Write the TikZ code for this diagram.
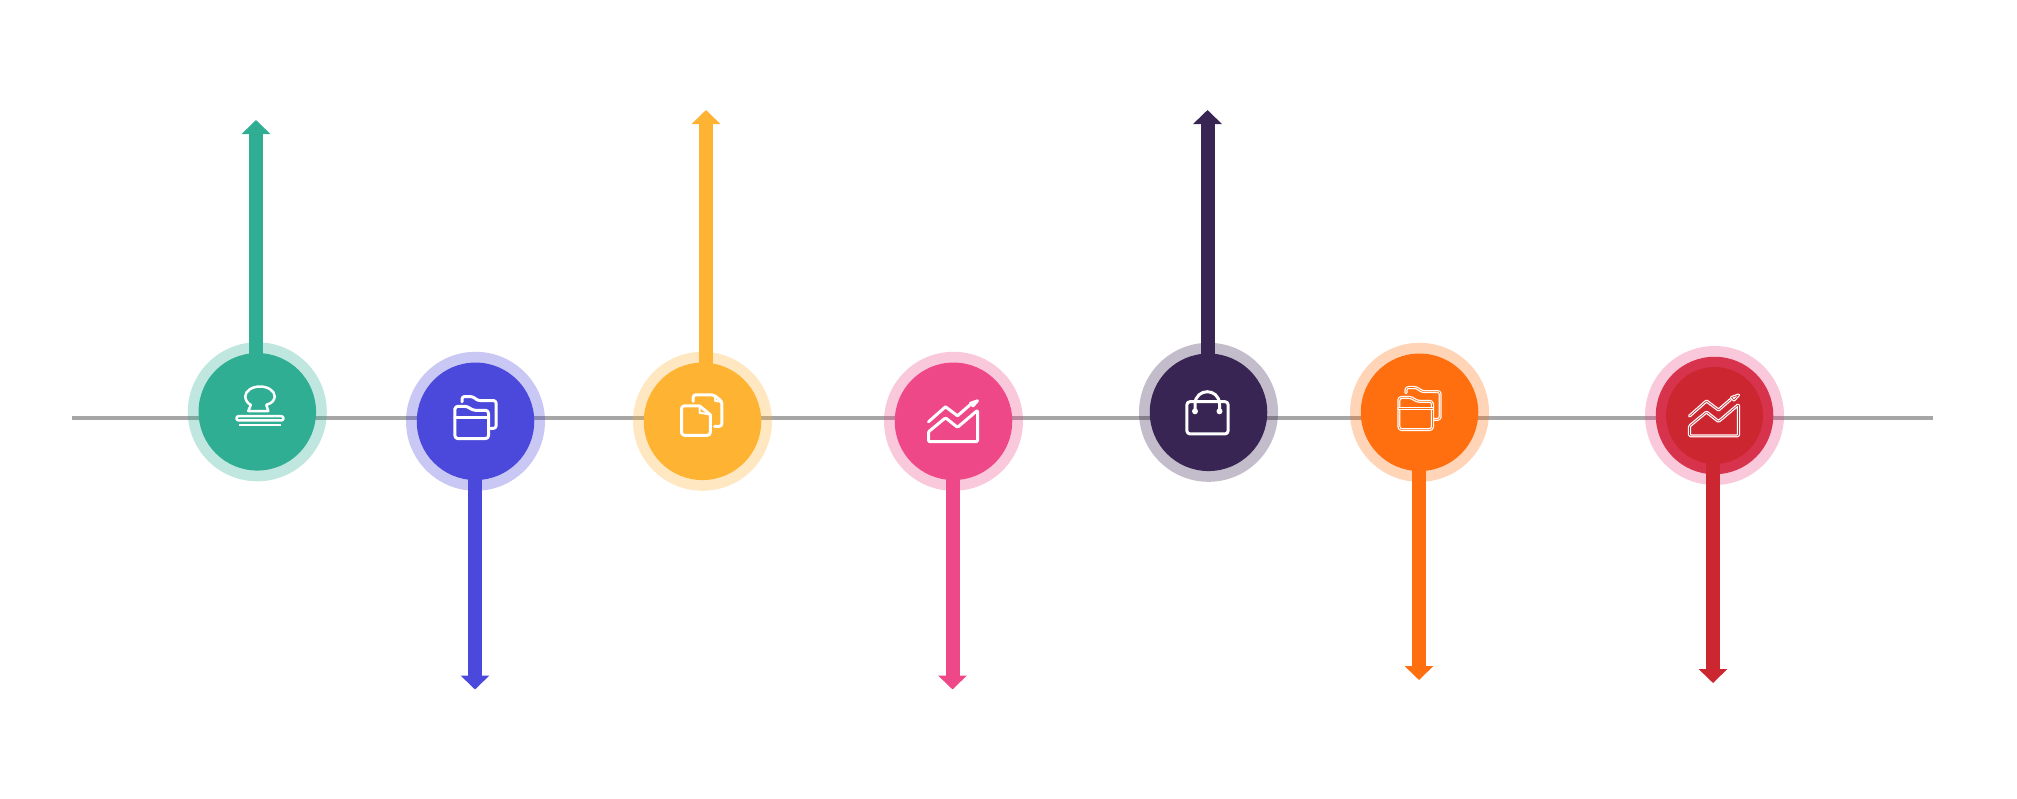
\documentclass[tikz,border=0pt]{standalone}
\usetikzlibrary{arrows.meta,calc}
\definecolor{cgreen}{HTML}{2FAE94}
\definecolor{cblue}{HTML}{4B49DB}
\definecolor{cyellow}{HTML}{FFB332}
\definecolor{cpink}{HTML}{EE4889}
\definecolor{cpurple}{HTML}{392553}
\definecolor{corange}{HTML}{FF6F0F}
\definecolor{cred}{HTML}{CC2730}
\definecolor{cmid}{HTML}{D7334D}
\definecolor{crail}{HTML}{A6A6A6}
\tikzset{
  rail/.style={draw=crail,line width=4pt},
  halo/.style={circle,inner sep=0pt,minimum size=139pt,fill=#1,fill opacity=.3},
  disc/.style={circle,inner sep=0pt,minimum size=117.5pt,fill=#1},
  stem/.style={draw=#1,line width=14pt,-{Triangle[width=28pt,length=14pt]}},
  icon/.style={draw=white,line width=3pt,line join=round,line cap=round,fill=none},
  icond/.style={draw=white,line width=1.25pt,double=#1,double distance=.6pt,line join=round,line cap=round,fill=none},
}
\newcommand{\iconfolder}[1]{%
  \draw[#1,rounded corners=2.5pt] (-13.5,-19.5) -- (-13.5,-24.8) -- (-3,-24.8) -- (2.5,-20.7) -- (20.6,-20.7) -- (20.6,7) -- (15,7);
  \draw[#1,rounded corners=3pt] (-20.6,-10) -- (-20.6,-15) -- (-8,-15) -- (-3,-11) -- (13,-11) -- (13,17.3) -- (-20.6,17.3) -- cycle;
  \draw[#1] (-20.6,-4) -- (13,-4);
}
\newcommand{\iconchart}[1]{%
  \draw[#1] (-25,.5) -- (-8,-14.5) -- (4,-5.5) -- (16,-16);
  \draw[#1,fill=white] (17,-18) -- (24,-20.5) -- (19.5,-15.5) -- cycle;
  \draw[#1,rounded corners=1pt] (-25,20.3) -- (-25,10.5) -- (-8,-3.5) -- (4,6) -- (24,-11) -- (24,20.3) -- cycle;
}
\begin{document}
\begin{tikzpicture}[x=1pt,y=-1pt]
\useasboundingbox (0,0) rectangle (2017,798);
\coordinate (railA) at (72,418);
\coordinate (railB) at (1932.5,418);
\draw[rail] (railA) -- (railB);
% tips
\coordinate (t1) at (256,120);
\coordinate (t2) at (475,689.5);
\coordinate (t3) at (706,110);
\coordinate (t4) at (952.5,689.5);
\coordinate (t5) at (1207.5,110);
\coordinate (t6) at (1419,680);
\coordinate (t7) at (1713,683);
% milestones
\node[halo=cgreen] (h1) at (257.3,411.8) {};
\node[disc=cgreen] (d1) at (257.3,411.8) {};
\draw[stem=cgreen] ([yshift=-3pt]t1 |- d1.north) -- (t1);
\node[halo=cblue] (h2) at (475.5,421.3) {};
\node[disc=cblue] (d2) at (475.5,421.3) {};
\draw[stem=cblue] ([yshift=3pt]t2 |- d2.south) -- (t2);
\node[halo=cyellow] (h3) at (702.5,421.3) {};
\node[disc=cyellow] (d3) at (702.5,421.3) {};
\draw[stem=cyellow] ([yshift=-3pt]t3 |- d3.north) -- (t3);
\node[halo=cpink] (h4) at (953.5,421.3) {};
\node[disc=cpink] (d4) at (953.5,421.3) {};
\draw[stem=cpink] ([yshift=3pt]t4 |- d4.south) -- (t4);
\node[halo=cpurple] (h5) at (1208.5,412.3) {};
\node[disc=cpurple] (d5) at (1208.5,412.3) {};
\draw[stem=cpurple] ([yshift=-3pt]t5 |- d5.north) -- (t5);
\node[halo=corange] (h6) at (1419.5,412.3) {};
\node[disc=corange] (d6) at (1419.5,412.3) {};
\draw[stem=corange] ([yshift=3pt]t6 |- d6.south) -- (t6);
\node[halo=cpink] (h7) at (1714.5,415.5) {};
\node[disc=cmid] (m7) at (1714.5,415.5) {};
\node[circle,inner sep=0pt,minimum size=97pt,fill=cred] (d7) at (1714.5,415.5) {};
\draw[stem=cred] ([yshift=3pt]t7 |- d7.south) -- (t7);
% stamp
\begin{scope}[shift={(d1.center)}]
  \draw[icon,line width=2.5pt] (-6.5,-7) .. controls (-10,-8.5) and (-12,-12) .. (-12,-15.5) .. controls (-12,-21) and (-5,-25.3) .. (2.7,-25.3) .. controls (10.5,-25.3) and (17.4,-21) .. (17.4,-15.5) .. controls (17.4,-12) and (15,-8.5) .. (9,-7) -- (11,-.8) -- (-9,-.8) -- cycle;
  \draw[icon,line width=2.5pt,rounded corners=2pt] (-20.8,4.4) rectangle (26.1,8.6);
  \draw[draw=white,line width=1.8pt] (-18,13.2) -- (23.3,13.2);
\end{scope}
% folders
\begin{scope}[shift={(d2.center)}]
  \iconfolder{icon}
\end{scope}
\begin{scope}[shift={(d6.center)}]
  \iconfolder{icond=corange}
\end{scope}
% documents
\begin{scope}[shift={(d3.center)}]
  \draw[icon,rounded corners=2.5pt] (-9.3,-20) -- (-9.3,-26.5) -- (11,-26.5) -- (19.3,-20) -- (19.3,5) -- (12,5);
  \draw[icon,line width=2pt] (12.5,-25) -- (12.5,-20.5) -- (18.5,-19.5);
  \draw[icon,rounded corners=3pt] (-4,-15.5) -- (-21,-15.5) -- (-21,14) -- (7.8,14) -- (7.8,-6.5);
  \draw[icon] (7.8,-6.5) -- (-3,-15.5);
  \draw[icon,line width=2pt] (-3,-14) -- (-3,-8.5) -- (7,-7);
\end{scope}
% bag
\begin{scope}[shift={(d5.center)}]
  \draw[icon,rounded corners=3pt] (-21.6,-10.6) rectangle (19.6,21.6);
  \draw[icon] (-13.5,-1) -- (-13.5,-8) .. controls (-13.5,-16.5) and (-7,-20.6) .. (-1.2,-20.6) .. controls (4.5,-20.6) and (11,-16.5) .. (11,-8) -- (11,-1);
  \fill[white] (-13.5,-1) circle[radius=3] (11,-1) circle[radius=3];
\end{scope}
% charts
\begin{scope}[shift={(d4.center)}]
  \iconchart{icon}
\end{scope}
\begin{scope}[shift={(d7.center)}]
  \iconchart{icond=cred}
\end{scope}
\end{tikzpicture}
\end{document}
